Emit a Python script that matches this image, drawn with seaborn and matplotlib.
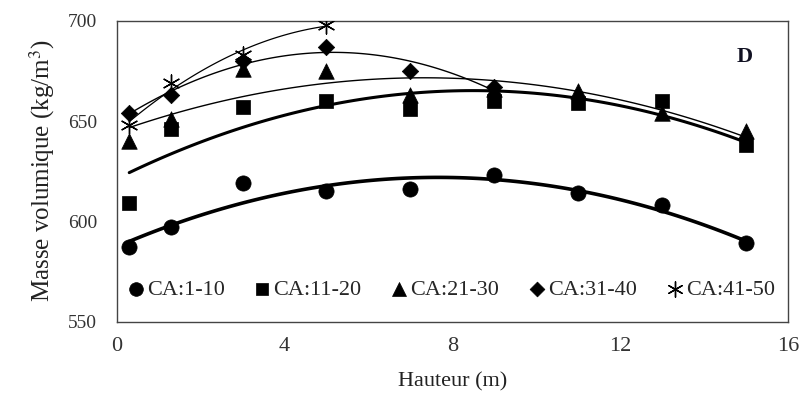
import numpy as np
import pandas as pd
import matplotlib
matplotlib.use("Agg")
import matplotlib.pyplot as plt
import seaborn as sns

# ---- data ----
heights = [0.3, 1.3, 3, 5, 7, 9, 11, 13, 15]
ca_1_10 = [587, 597, 619, 615, 616, 623, 614, 608, 589]
ca_11_20 = [609, 646, 657, 660, 656, 660, 659, 660, 638]
ca_21_30 = [640, 651, 676, 675, 663, 666, 665, 654, 645]
ca_31_40 = [654, 663, 680, 687, 675, 667]
ca_41_50 = [648, 669, 683, 698]
series_names = ["CA:1-10", "CA:11-20", "CA:21-30", "CA:31-40", "CA:41-50"]
series_values = [ca_1_10, ca_11_20, ca_21_30, ca_31_40, ca_41_50]
x_ticks = [0, 4, 8, 12, 16]
y_ticks = [550, 600, 650, 700]

sns.set_style("white")
plt.rcParams["font.family"] = ["Liberation Serif", "DejaVu Serif"]
plt.rcParams["mathtext.fontset"] = "stix"

markers = ["o", "s", "^", "D", (6, 2, 0)]
msizes = [120, 105, 125, 70, 150]
line_w = [2.6, 2.2, 1.0, 1.0, 0.9]

fig = plt.figure(figsize=(8.1, 4.01), dpi=100)
ax = fig.add_axes([0.144, 0.198, 0.829, 0.750])

handles = []
for name, vals, m, s, lw in zip(series_names, series_values, markers, msizes, line_w):
    df = pd.DataFrame({"h": heights[:len(vals)], "v": vals})
    sns.regplot(data=df, x="h", y="v", order=2, ci=None, scatter=False,
                color="black", line_kws={"linewidth": lw}, ax=ax, truncate=True)
    if isinstance(m, tuple):
        sc = ax.scatter(df["h"], df["v"], marker=m, s=s, color="black",
                        linewidths=1.0, zorder=3, label=name)
    else:
        sc = ax.scatter(df["h"], df["v"], marker=m, s=s, color="black",
                        edgecolors="black", linewidths=0.5, zorder=3, label=name)
    handles.append(sc)

ax.set_xlim(0, 16)
ax.set_ylim(550, 700)
ax.set_xticks(x_ticks)
ax.set_yticks(y_ticks)
ax.tick_params(axis="both", direction="out", length=5, width=0.8,
               colors="#555555", labelcolor="#333333")
ax.tick_params(axis="x", labelsize=16, pad=6)
ax.tick_params(axis="y", labelsize=14, pad=9)
for sp in ax.spines.values():
    sp.set_color("#444444")
    sp.set_linewidth(1.0)

ax.set_xlabel("Hauteur (m)", fontsize=16, color="#222222", labelpad=12)
ax.set_ylabel("Masse volumique (kg/m$^3$)", fontsize=18, color="#222222", labelpad=8)

ax.text(0.935, 0.88, "D", transform=ax.transAxes, fontsize=16,
        fontweight="bold", color="#111122", ha="center", va="center")

ax.legend(handles=handles, labels=series_names, loc="center", ncol=5,
          bbox_to_anchor=(0.496, 0.105), frameon=False, fontsize=16,
          handletextpad=0.0, columnspacing=1.2, handlelength=1.0,
          borderaxespad=0, markerscale=0.9)

fig.savefig("out.png", dpi=100)
